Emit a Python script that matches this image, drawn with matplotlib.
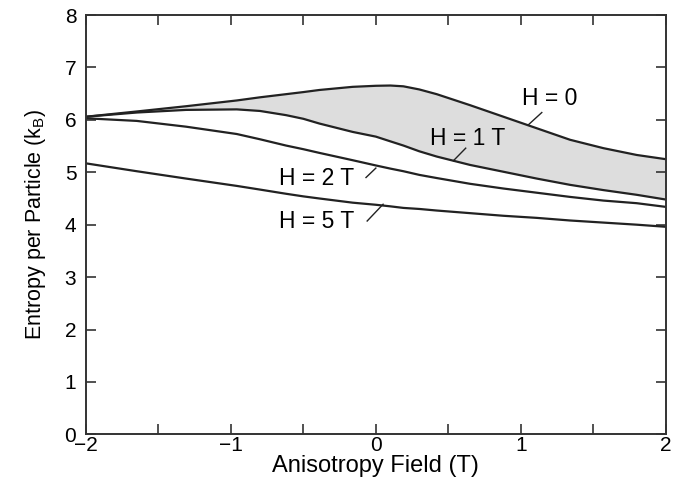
import numpy as np
import matplotlib.pyplot as plt

plt.rcParams['font.family'] = ['Liberation Sans', 'DejaVu Sans']
plt.rcParams['mathtext.fontset'] = 'custom'
plt.rcParams['mathtext.rm'] = 'Liberation Sans'

# anisotropy field (T)
x = [-2.0, -1.65, -1.31, -0.96, -0.8, -0.62, -0.5, -0.39, -0.16, 0.0, 0.1,
     0.19, 0.3, 0.42, 0.65, 0.88, 1.11, 1.34, 1.57, 1.8, 2.0]

# entropy per particle (k_B)
s_h0 = [6.06, 6.16, 6.26, 6.37, 6.43, 6.49, 6.53, 6.57, 6.63, 6.65, 6.655,
        6.64, 6.58, 6.49, 6.28, 6.06, 5.84, 5.62, 5.46, 5.33, 5.25]
s_h1 = [6.06, 6.14, 6.19, 6.20, 6.17, 6.09, 6.02, 5.93, 5.77, 5.68, 5.59,
        5.51, 5.40, 5.30, 5.14, 5.01, 4.88, 4.76, 4.66, 4.57, 4.48]
s_h2 = [6.03, 5.98, 5.87, 5.73, 5.63, 5.51, 5.44, 5.37, 5.23, 5.13, 5.07,
        5.02, 4.95, 4.89, 4.78, 4.69, 4.61, 4.53, 4.46, 4.41, 4.34]
s_h5 = [5.17, 5.02, 4.88, 4.74, 4.67, 4.59, 4.54, 4.50, 4.42, 4.38, 4.35,
        4.32, 4.30, 4.27, 4.22, 4.17, 4.13, 4.08, 4.04, 4.00, 3.96]

fig = plt.figure(figsize=(6.97, 4.93), dpi=100)
ax = fig.add_axes([0.1234, 0.119, 0.8317, 0.8505])

ax.fill_between(x, s_h1, s_h0, color='#dddddd', lw=0)
for s in [s_h0, s_h1, s_h2, s_h5]:
    ax.plot(x, s, color='#222222', lw=1.6, solid_joinstyle='round')

lab_fs = 16.5
ax.text(1.20, 6.40, 'H = 0', ha='center', va='center', fontsize=lab_fs)
ax.plot([1.145, 1.05], [6.14, 5.90], color='#222222', lw=1)
ax.text(0.63, 5.65, 'H = 1 T', ha='center', va='center', fontsize=lab_fs)
ax.plot([0.62, 0.535], [5.46, 5.22], color='#222222', lw=1)
ax.text(-0.41, 4.88, 'H = 2 T', ha='center', va='center', fontsize=lab_fs)
ax.plot([-0.068, 0.0], [4.90, 5.08], color='#222222', lw=1)
ax.text(-0.41, 4.06, 'H = 5 T', ha='center', va='center', fontsize=lab_fs)
ax.plot([-0.06, 0.05], [4.07, 4.39], color='#222222', lw=1)

ax.set_xlim(-2, 2)
ax.set_ylim(0, 8)
ax.set_xticks(np.arange(-2, 2.01, 0.5))
ax.set_xticklabels(['\u22122', '', '\u22121', '', '0', '', '1', '', '2'])
ax.set_yticks(range(0, 9))
ax.tick_params(direction='in', length=7, width=1.2, top=True, right=True,
               labelsize=15, color='#333333')
ax.tick_params(axis='x', pad=1)
ax.tick_params(axis='y', pad=7)
for sp in ax.spines.values():
    sp.set_linewidth(1.4)
    sp.set_color('#333333')

ax.set_xlabel('Anisotropy Field (T)', fontsize=17, labelpad=0)
ax.set_ylabel('Entropy per Particle (k$_\\mathregular{B}$)', fontsize=15.5, labelpad=12)

fig.savefig('out.png', dpi=100)
